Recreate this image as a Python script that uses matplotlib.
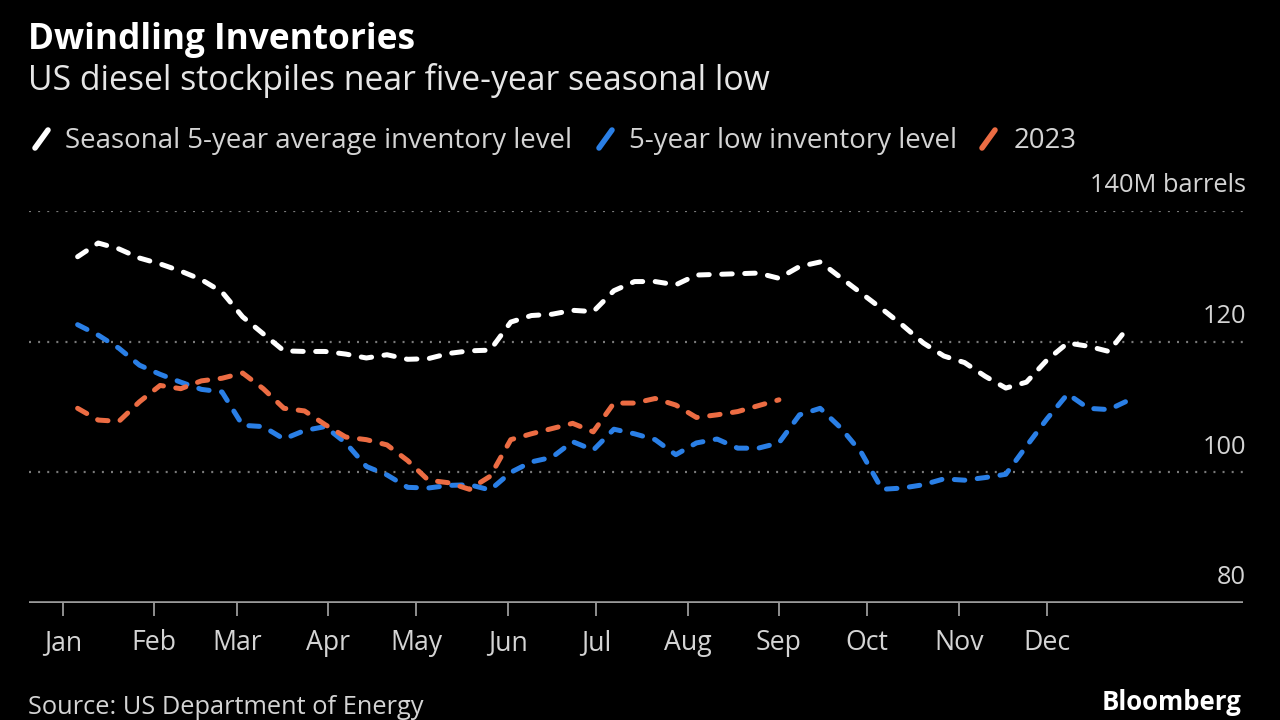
import matplotlib
matplotlib.use("Agg")
import matplotlib.pyplot as plt
import matplotlib.dates as mdates
from matplotlib import font_manager
from matplotlib.lines import Line2D
import pandas as pd
import numpy as np

# ---------------- data ----------------
week_start = "2023-01-06"
n_weeks = 52
avg_5yr = [133.0, 135.1, 134.2, 132.8, 131.9, 130.8, 129.5, 127.6, 123.8, 121.2,
           118.6, 118.5, 118.5, 118.1, 117.5, 118.0, 117.3, 117.4, 118.2, 118.6,
           118.7, 123.0, 124.0, 124.2, 124.8, 124.6, 127.8, 129.2, 129.2, 128.7,
           130.2, 130.3, 130.4, 130.5, 129.7, 131.5, 132.2, 129.8, 127.4, 125.0,
           122.5, 119.8, 117.8, 116.8, 114.7, 112.9, 113.8, 117.2, 119.8, 119.3,
           118.5, 122.5]
low_5yr = [122.6, 121.0, 119.0, 116.4, 115.0, 113.8, 112.7, 112.3, 107.2, 107.0,
           105.1, 106.4, 107.0, 104.5, 100.9, 99.6, 97.7, 97.6, 98.0, 98.1,
           97.3, 100.0, 101.6, 102.3, 104.7, 103.4, 106.6, 105.9, 105.0, 102.7,
           104.5, 105.1, 103.7, 103.7, 104.5, 108.8, 109.8, 106.8, 103.0, 97.4,
           97.6, 98.1, 99.0, 98.8, 99.2, 99.7, 104.0, 108.2, 112.0, 109.8,
           109.6, 111.1]
y2023 = [109.8, 108.0, 107.8, 110.8, 113.3, 112.8, 114.0, 114.4, 115.2, 112.8,
         109.8, 109.4, 107.3, 105.4, 105.0, 104.2, 101.8, 98.8, 98.4, 97.4,
         99.4, 105.0, 105.9, 106.7, 107.5, 106.2, 110.6, 110.6, 111.3, 110.3,
         108.4, 108.8, 109.3, 110.2, 111.1]
series_names = ["Seasonal 5-year average inventory level",
                "5-year low inventory level", "2023"]
month_labels = ["Jan", "Feb", "Mar", "Apr", "May", "Jun",
                "Jul", "Aug", "Sep", "Oct", "Nov", "Dec"]
y_ticks = [80, 100, 120, 140]
y_tick_labels = ["80", "100", "120", "140M barrels"]

title = "Dwindling Inventories"
subtitle = "US diesel stockpiles near five-year seasonal low"
source = "Source: US Department of Energy"

# ---------------- style ----------------
avail = {f.name for f in font_manager.fontManager.ttflist}
font = "DejaVu Sans"
for cand in ["Open Sans", "Noto Sans", "Lato", "Roboto"]:
    if cand in avail:
        font = cand
        break
plt.rcParams["font.family"] = [font, "DejaVu Sans"]

BG = "black"
C_WHITE = "#ffffff"
C_BLUE = "#2a7fe6"
C_ORANGE = "#ec6c43"
C_TEXT = "#d4d4d4"
C_GRID = "#7a7a7a"

dates = pd.date_range(week_start, periods=n_weeks, freq="7D")

fig = plt.figure(figsize=(12.8, 7.2), dpi=100, facecolor=BG)
W, H = 1280, 720
ax_left, ax_right, ax_top, ax_bot = 29, 1243, 211, 603
ax = fig.add_axes([ax_left / W, 1 - ax_bot / H, (ax_right - ax_left) / W,
                   (ax_bot - ax_top) / H])
ax.set_facecolor(BG)

jan1 = pd.Timestamp("2023-01-01")
ax.set_xlim(mdates.date2num(jan1 - pd.Timedelta(days=11.5)),
            mdates.date2num(jan1 + pd.Timedelta(days=400.5)))
ax.set_ylim(80, 140)

# grid lines
for v in [100, 120, 140]:
    ax.axhline(v, color=C_GRID, lw=1.6, ls=(0, (0.9, 3.2)), zorder=1)
ax.axhline(80, color="#9a9a9a", lw=2.6, zorder=2, solid_capstyle="butt")

dash = (0, (2.1, 2.5))
lw = 3.6
ax.plot(dates, avg_5yr, color=C_WHITE, lw=lw, ls=dash, dash_capstyle="round",
        zorder=3, clip_on=False)
ax.plot(dates, low_5yr, color=C_BLUE, lw=lw, ls=dash, dash_capstyle="round",
        zorder=4, clip_on=False)
ax.plot(dates[:len(y2023)], y2023, color=C_ORANGE, lw=lw, ls=dash,
        dash_capstyle="round", zorder=5, clip_on=False)

for s in ax.spines.values():
    s.set_visible(False)

month_ticks = pd.date_range("2023-01-01", periods=12, freq="MS")
ax.set_xticks(month_ticks)
ax.set_xticklabels(month_labels)
ax.tick_params(axis="x", colors="#9a9a9a", length=9, width=1.3, pad=10,
               labelsize=17, labelcolor=C_TEXT)
ax.set_yticks([])

renderer = fig.canvas.get_renderer()


def fit(t, target_px):
    w = t.get_window_extent(renderer).width
    t.set_fontsize(t.get_fontsize() * target_px / w)
    return t


# y labels on right, above lines
ylab_objs = []
for v, lab in zip(y_ticks, y_tick_labels):
    t = ax.annotate(lab, xy=(1.0, v), xycoords=("axes fraction", "data"),
                    xytext=(2, 18), textcoords="offset points",
                    ha="right", va="center", fontsize=17, color=C_TEXT)
    ylab_objs.append(t)
fit(ylab_objs[-1], 157)
for t in ylab_objs:
    t.set_fontsize(ylab_objs[-1].get_fontsize())

# month label size to match "Feb" width (45 px)
tmp = fig.text(0, 0, "Feb", fontsize=17)
fit(tmp, 45)
ms = tmp.get_fontsize()
tmp.remove()
ax.tick_params(axis="x", labelsize=ms)

# titles
fit(fig.text(28 / W, 1 - 40 / H, title, fontsize=22, fontweight="bold",
             color="white", va="center", ha="left"), 387)
fit(fig.text(28 / W, 1 - 80 / H, subtitle, fontsize=20, color="#e6e6e6",
             va="center", ha="left"), 742)

# legend (manual)
leg_y = 141
entries = [(33, 65, C_WHITE, series_names[0], 507),
           (597, 629, C_BLUE, series_names[1], 327),
           (980, 1014, C_ORANGE, series_names[2], 62)]
leg_objs = []
for mx, tx, col, name, wpx in entries:
    fig.add_artist(Line2D([(mx + 2) / W, (mx + 15) / W],
                          [1 - (leg_y + 7) / H, 1 - (leg_y - 11) / H],
                          color=col, lw=4, solid_capstyle="round"))
    t = fig.text(tx / W, 1 - leg_y / H, name, fontsize=16, color=C_TEXT,
                 va="center", ha="left")
    leg_objs.append(t)
fit(leg_objs[0], 507)
for t in leg_objs:
    t.set_fontsize(leg_objs[0].get_fontsize())

fit(fig.text(28 / W, 1 - 708 / H, source, fontsize=14, color=C_TEXT,
             va="center", ha="left"), 398)
fit(fig.text(1241 / W, 1 - 703 / H, "Bloomberg", fontsize=15, fontweight="bold",
             color="white", va="center", ha="right"), 140)

fig.savefig("out.png", dpi=100, facecolor=BG)
